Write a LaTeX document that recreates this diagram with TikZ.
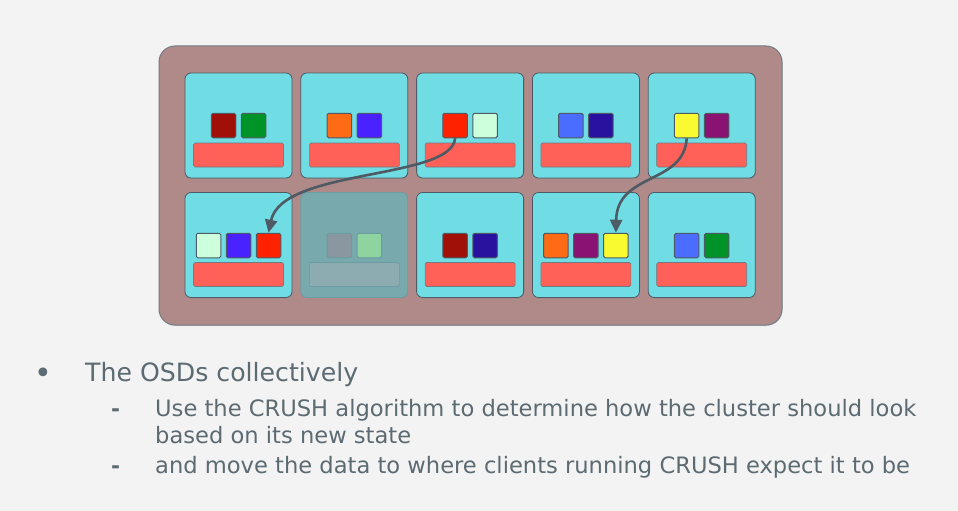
\documentclass[tikz,border=0pt]{standalone}
\usepackage{fontspec}
\setmainfont{DejaVu Sans}
\usetikzlibrary{arrows.meta,shadows}
\definecolor{bg}{HTML}{F3F3F3}
\definecolor{rack}{HTML}{B08A88}
\definecolor{edge}{HTML}{4E5A64}
\definecolor{cellc}{HTML}{70DCE4}
\definecolor{barc}{HTML}{FF6058}
\definecolor{fcell}{HTML}{78A9AD}
\definecolor{fedge}{HTML}{6A9CA2}
\definecolor{fbar}{HTML}{8CACB2}
\definecolor{txt}{HTML}{5C6A72}
\definecolor{cDR}{HTML}{A01008}
\definecolor{cGR}{HTML}{009428}
\definecolor{cOR}{HTML}{FF6A14}
\definecolor{cBV}{HTML}{4A22FF}
\definecolor{cRD}{HTML}{FF2200}
\definecolor{cMN}{HTML}{CCFFDC}
\definecolor{cLB}{HTML}{4A6CFF}
\definecolor{cDB}{HTML}{2A12A0}
\definecolor{cYL}{HTML}{FAFA30}
\definecolor{cPU}{HTML}{8A1272}
\definecolor{cGY}{HTML}{8A96A0}
\definecolor{cLG}{HTML}{8ED4A0}
\tikzset{
  cell/.style={draw=edge, line width=0.8pt, fill=cellc, rounded corners=6pt,
    minimum width=107pt, minimum height=105pt, inner sep=0pt,
    drop shadow={shadow xshift=0.6pt, shadow yshift=-1pt, opacity=0.35}},
  fcellst/.style={draw=fedge, line width=0.8pt, fill=fcell, rounded corners=6pt,
    minimum width=107pt, minimum height=105pt, inner sep=0pt},
  bar/.style={draw=edge!80, line width=0.6pt, fill=barc, rounded corners=1.5pt,
    minimum width=90pt, minimum height=24pt, inner sep=0pt},
  fbarst/.style={draw=fedge, line width=0.6pt, fill=fbar, rounded corners=1.5pt,
    minimum width=90pt, minimum height=24pt, inner sep=0pt},
  sq/.style={draw=edge, line width=1pt, fill=#1, rounded corners=1.5pt,
    minimum width=24.5pt, minimum height=24.5pt, inner sep=0pt},
  fsq/.style={draw=fedge, line width=1pt, fill=#1, rounded corners=1.5pt,
    minimum width=24.5pt, minimum height=24.5pt, inner sep=0pt},
  arr/.style={draw=edge, line width=2.6pt, -{Triangle[length=13pt,width=12pt]}},
  lvl1/.style={anchor=base west, text=txt, font=\fontsize{25.2}{30}\selectfont, inner sep=0pt},
  lvl2/.style={anchor=base west, text=txt, font=\fontsize{22.6}{26}\selectfont, inner sep=0pt},
}
\begin{document}
\begin{tikzpicture}[x=1pt,y=-1pt]
\fill[bg] (0,0) rectangle (958,511);
\useasboundingbox (0,0) rectangle (958,511);

% rack
\node[draw=edge!80, line width=1pt, fill=rack, rounded corners=16pt, minimum width=623pt, minimum height=279pt,
  inner sep=0pt, drop shadow={shadow xshift=0.6pt, shadow yshift=-1pt, opacity=0.3}] (rack) at (470.5,185.5) {};

% top row
\node[cell] (c1) at (238.5,125.5) {};
\node[cell] (c2) at (354.3,125.5) {};
\node[cell] (c3) at (470.1,125.5) {};
\node[cell] (c4) at (585.9,125.5) {};
\node[cell] (c5) at (701.7,125.5) {};
% bottom row
\node[cell] (d1) at (238.5,245) {};
\node[fcellst] (d2) at (354.3,245) {};
\node[cell] (d3) at (470.1,245) {};
\node[cell] (d4) at (585.9,245) {};
\node[cell] (d5) at (701.7,245) {};

% bars
\foreach \n/\x in {c1/238.5,c2/354.3,c3/470.1,c4/585.9,c5/701.7}
  \node[bar] (\n bar) at (\x,155) {};
\foreach \n/\x in {d1/238.5,d3/470.1,d4/585.9,d5/701.7}
  \node[bar] (\n bar) at (\x,274.5) {};
\node[fbarst] (d2bar) at (354.3,274.5) {};

% squares top row
\node[sq=cDR] (c1a) at (223.5,125.5) {};
\node[sq=cGR] (c1b) at (253.5,125.5) {};
\node[sq=cOR] (c2a) at (339.3,125.5) {};
\node[sq=cBV] (c2b) at (369.3,125.5) {};
\node[sq=cRD] (c3a) at (455.1,125.5) {};
\node[sq=cMN] (c3b) at (485.1,125.5) {};
\node[sq=cLB] (c4a) at (570.9,125.5) {};
\node[sq=cDB] (c4b) at (600.9,125.5) {};
\node[sq=cYL] (c5a) at (686.7,125.5) {};
\node[sq=cPU] (c5b) at (716.7,125.5) {};
% squares bottom row
\node[sq=cMN] (d1a) at (208.5,245.5) {};
\node[sq=cBV] (d1b) at (238.5,245.5) {};
\node[sq=cRD] (d1c) at (268.5,245.5) {};
\node[fsq=cGY] (d2a) at (339.3,245.5) {};
\node[fsq=cLG] (d2b) at (369.3,245.5) {};
\node[sq=cDR] (d3a) at (455.1,245.5) {};
\node[sq=cDB] (d3b) at (485.1,245.5) {};
\node[sq=cOR] (d4a) at (555.9,245.5) {};
\node[sq=cPU] (d4b) at (585.9,245.5) {};
\node[sq=cYL] (d4c) at (615.9,245.5) {};
\node[sq=cLB] (d5a) at (686.7,245.5) {};
\node[sq=cGR] (d5b) at (716.7,245.5) {};

% arrows
\draw[arr] (c3a.south) .. controls (452,180) and (282,168) .. (d1c.north);
\draw[arr] (c5a.south) .. controls (684,185) and (617,172) .. (d4c.north);

% text
\node[anchor=base, text=txt, font=\fontsize{30}{32}\selectfont, inner sep=0pt] (b1) at (43,383) {•};
\node[lvl1] (t1) at (85,381) {The OSDs collectively};
\node[lvl2, font=\bfseries\fontsize{21.6}{26}\selectfont] (h1) at (111,416) {-};
\node[lvl2] (t2) at (155,416) {Use the CRUSH algorithm to determine how the cluster should look};
\node[lvl2] (t3) at (155,443) {based on its new state};
\node[lvl2, font=\bfseries\fontsize{21.6}{26}\selectfont] (h2) at (111,473) {-};
\node[lvl2] (t4) at (155,473) {and move the data to where clients running CRUSH expect it to be};
\end{tikzpicture}
\end{document}
